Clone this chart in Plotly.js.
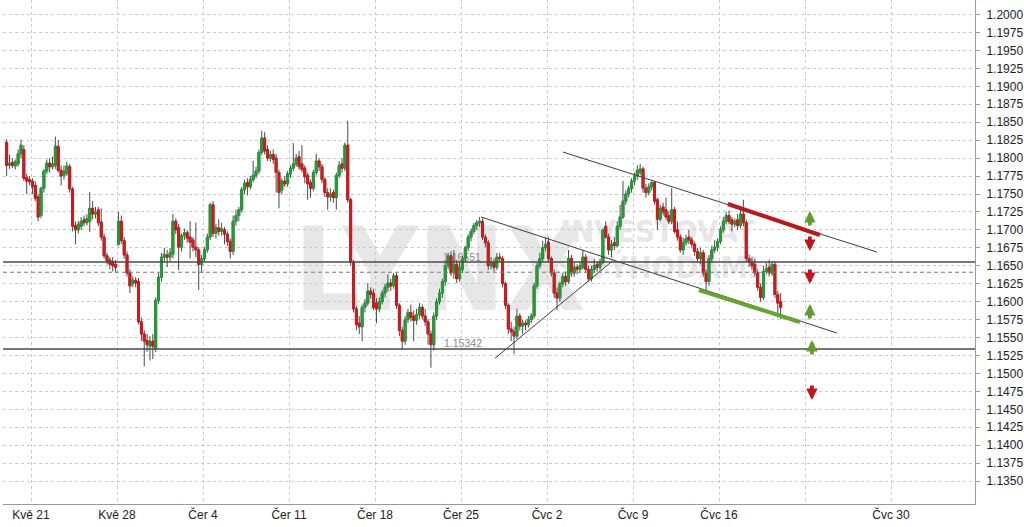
<!DOCTYPE html>
<html><head><meta charset="utf-8">
<script src="https://cdn.plot.ly/plotly-3.0.1.min.js"></script>
<style>html,body{margin:0;padding:0;background:#fff}#chart{width:1024px;height:527px}</style>
</head><body><div id="chart"></div>
<script>
// EUR/USD 4-hour candles. Slot index 0 = Monday 21 May 00:00 (30 slots per trading week)
const firstSlot = -9;

const open = [
1.1822,1.1790,1.1794,1.1789,1.1792,1.1806,1.1812,1.1773,1.1770,
1.1768,1.1762,1.1746,1.1720,1.1758,1.1782,1.1793,1.1788,1.1790,1.1816,1.1783,1.1776,1.1779,1.1788,1.1757,1.1706,1.1700,1.1705,1.1714,1.1710,1.1712,1.1730,1.1722,1.1728,1.1711,1.1690,1.1664,1.1658,1.1656,1.1652,
1.1680,1.1712,1.1685,1.1665,1.1640,1.1625,1.1630,1.1628,1.1572,1.1555,1.1546,1.1538,1.1545,1.1535,1.1602,1.1634,1.1662,1.1665,1.1662,1.1666,1.1712,1.1703,1.1676,1.1692,1.1696,1.1690,1.1686,1.1676,1.1672,1.1652,
1.1660,1.1672,1.1690,1.1735,1.1695,1.1703,1.1698,1.1700,1.1694,1.1684,1.1670,1.1712,1.1720,1.1728,1.1756,1.1766,1.1760,1.1770,1.1776,1.1782,1.1808,1.1828,1.1812,1.1800,1.1805,1.1800,1.1780,1.1755,1.1768,1.1764,
1.1778,1.1786,1.1792,1.1802,1.1792,1.1786,1.1776,1.1766,1.1758,1.1780,1.1796,1.1788,1.1770,1.1752,1.1746,1.1752,1.1745,1.1776,1.1792,1.1786,1.1818,1.1742,1.1655,1.1590,1.1570,1.1565,1.1592,1.1598,1.1615,1.1612,
1.1598,1.1590,1.1600,1.1612,1.1620,1.1626,1.1622,1.1636,1.1595,1.1560,1.1545,1.1575,1.1585,1.1580,1.1574,1.1582,1.1592,1.1580,1.1572,1.1555,1.1540,1.1580,1.1600,1.1612,1.1628,1.1650,1.1664,1.1640,1.1652,1.1632,
1.1645,1.1660,1.1675,1.1690,1.1698,1.1706,1.1710,1.1712,1.1690,1.1682,1.1650,1.1655,1.1648,1.1662,1.1660,1.1625,1.1595,1.1562,1.1558,1.1552,1.1580,1.1566,1.1570,1.1568,1.1575,1.1580,1.1622,1.1650,1.1660,1.1675,
1.1683,1.1660,1.1640,1.1612,1.1605,1.1625,1.1635,1.1628,1.1660,1.1640,1.1648,1.1645,1.1648,1.1662,1.1645,1.1632,1.1645,1.1652,1.1648,1.1655,1.1705,1.1690,1.1672,1.1682,1.1678,1.1705,1.1718,1.1740,1.1750,1.1758,
1.1768,1.1775,1.1780,1.1785,1.1758,1.1752,1.1760,1.1766,1.1742,1.1715,1.1732,1.1728,1.1720,1.1712,1.1728,1.1700,1.1690,1.1672,1.1682,1.1690,1.1686,1.1680,1.1670,1.1660,1.1668,1.1640,1.1628,1.1660,1.1672,1.1676,
1.1684,1.1700,1.1712,1.1720,1.1714,1.1708,1.1714,1.1706,1.1722,1.1710,1.1660,1.1656,1.1652,1.1640,1.1620,1.1606,1.1642,1.1648,1.1640,1.1652,1.1610,1.1600
];
const high = [
1.1826,1.1805,1.1800,1.1798,1.1812,1.1826,1.1818,1.1778,1.1775,
1.1772,1.1768,1.1750,1.1760,1.1785,1.1798,1.1800,1.1802,1.1830,1.1825,1.1790,1.1790,1.1795,1.1792,1.1760,1.1712,1.1712,1.1718,1.1720,1.1722,1.1753,1.1740,1.1732,1.1732,1.1730,1.1695,1.1668,1.1662,1.1662,1.1658,
1.1725,1.1720,1.1690,1.1670,1.1645,1.1635,1.1634,1.1633,1.1578,1.1560,1.1555,1.1552,1.1555,1.1606,1.1640,1.1668,1.1675,1.1672,1.1675,1.1722,1.1716,1.1708,1.1695,1.1702,1.1700,1.1712,1.1690,1.1710,1.1676,1.1665,
1.1676,1.1695,1.1738,1.1740,1.1708,1.1715,1.1710,1.1704,1.1698,1.1688,1.1720,1.1728,1.1732,1.1760,1.1770,1.1772,1.1775,1.1796,1.1788,1.1812,1.1838,1.1836,1.1818,1.1810,1.1812,1.1806,1.1784,1.1772,1.1775,1.1782,
1.1790,1.1821,1.1806,1.1810,1.1818,1.1790,1.1780,1.1770,1.1784,1.1806,1.1800,1.1792,1.1774,1.1758,1.1758,1.1756,1.1780,1.1796,1.1800,1.1822,1.1852,1.1745,1.1658,1.1594,1.1580,1.1596,1.1604,1.1626,1.1620,1.1618,
1.1605,1.1606,1.1616,1.1625,1.1638,1.1632,1.1640,1.1640,1.1598,1.1565,1.1580,1.1590,1.1596,1.1588,1.1590,1.1598,1.1596,1.1590,1.1576,1.1560,1.1585,1.1605,1.1618,1.1632,1.1655,1.1668,1.1670,1.1672,1.1658,1.1655,
1.1664,1.1678,1.1694,1.1702,1.1710,1.1714,1.1718,1.1716,1.1694,1.1686,1.1662,1.1660,1.1668,1.1668,1.1664,1.1628,1.1598,1.1572,1.1565,1.1590,1.1584,1.1575,1.1574,1.1580,1.1584,1.1626,1.1654,1.1668,1.1685,1.1690,
1.1690,1.1663,1.1645,1.1620,1.1628,1.1640,1.1642,1.1672,1.1665,1.1655,1.1652,1.1656,1.1672,1.1666,1.1650,1.1650,1.1660,1.1656,1.1660,1.1702,1.1712,1.1695,1.1686,1.1690,1.1712,1.1735,1.1768,1.1755,1.1762,1.1772,
1.1780,1.1790,1.1792,1.1788,1.1764,1.1765,1.1768,1.1768,1.1745,1.1735,1.1738,1.1745,1.1726,1.1758,1.1732,1.1712,1.1694,1.1688,1.1693,1.1700,1.1690,1.1684,1.1675,1.1675,1.1672,1.1645,1.1665,1.1678,1.1686,1.1688,
1.1705,1.1718,1.1725,1.1727,1.1718,1.1716,1.1722,1.1730,1.1742,1.1714,1.1666,1.1662,1.1660,1.1645,1.1625,1.1650,1.1654,1.1658,1.1656,1.1656,1.1615,1.1612
];
const low = [
1.1775,1.1785,1.1786,1.1784,1.1788,1.1800,1.1768,1.1750,1.1762,
1.1750,1.1740,1.1712,1.1716,1.1752,1.1778,1.1780,1.1784,1.1785,1.1780,1.1762,1.1770,1.1775,1.1752,1.1698,1.1680,1.1695,1.1700,1.1705,1.1706,1.1697,1.1715,1.1716,1.1705,1.1685,1.1660,1.1652,1.1645,1.1642,1.1640,
1.1678,1.1680,1.1660,1.1635,1.1612,1.1620,1.1620,1.1568,1.1545,1.1510,1.1530,1.1518,1.1520,1.1530,1.1597,1.1628,1.1655,1.1648,1.1656,1.1660,1.1694,1.1644,1.1670,1.1686,1.1682,1.1660,1.1670,1.1662,1.1616,1.1640,
1.1655,1.1668,1.1686,1.1690,1.1688,1.1692,1.1692,1.1680,1.1678,1.1660,1.1665,1.1706,1.1712,1.1724,1.1750,1.1748,1.1756,1.1766,1.1772,1.1778,1.1804,1.1805,1.1796,1.1795,1.1792,1.1752,1.1730,1.1750,1.1760,1.1760,
1.1772,1.1782,1.1788,1.1784,1.1780,1.1765,1.1742,1.1745,1.1754,1.1776,1.1782,1.1765,1.1746,1.1728,1.1740,1.1738,1.1728,1.1772,1.1780,1.1782,1.1738,1.1650,1.1585,1.1560,1.1555,1.1545,1.1585,1.1594,1.1604,1.1588,
1.1570,1.1585,1.1596,1.1606,1.1614,1.1615,1.1618,1.1590,1.1552,1.1533,1.1540,1.1570,1.1572,1.1545,1.1568,1.1576,1.1575,1.1566,1.1540,1.1508,1.1532,1.1575,1.1596,1.1605,1.1622,1.1645,1.1636,1.1632,1.1626,1.1628,
1.1640,1.1655,1.1670,1.1684,1.1694,1.1700,1.1704,1.1686,1.1676,1.1644,1.1645,1.1642,1.1644,1.1655,1.1620,1.1590,1.1555,1.1545,1.1527,1.1548,1.1560,1.1555,1.1560,1.1564,1.1570,1.1576,1.1618,1.1646,1.1656,1.1670,
1.1655,1.1635,1.1605,1.1588,1.1600,1.1620,1.1622,1.1625,1.1635,1.1635,1.1638,1.1640,1.1645,1.1640,1.1628,1.1628,1.1640,1.1642,1.1644,1.1652,1.1688,1.1665,1.1662,1.1672,1.1676,1.1700,1.1715,1.1735,1.1745,1.1752,
1.1762,1.1770,1.1776,1.1752,1.1745,1.1748,1.1755,1.1735,1.1700,1.1712,1.1720,1.1714,1.1708,1.1708,1.1695,1.1685,1.1668,1.1665,1.1678,1.1680,1.1674,1.1664,1.1655,1.1652,1.1635,1.1615,1.1622,1.1655,1.1668,1.1670,
1.1680,1.1696,1.1708,1.1708,1.1698,1.1704,1.1700,1.1702,1.1705,1.1655,1.1648,1.1645,1.1635,1.1615,1.1600,1.1602,1.1638,1.1635,1.1636,1.1605,1.1578,1.1576
];
const close = [
1.1790,1.1793,1.1790,1.1795,1.1806,1.1818,1.1772,1.1768,1.1767,
1.1760,1.1744,1.1718,1.1758,1.1782,1.1793,1.1788,1.1792,1.1817,1.1783,1.1775,1.1782,1.1789,1.1757,1.1705,1.1700,1.1708,1.1712,1.1710,1.1716,1.1730,1.1722,1.1725,1.1710,1.1690,1.1664,1.1657,1.1652,1.1650,1.1648,
1.1712,1.1685,1.1665,1.1640,1.1622,1.1630,1.1626,1.1572,1.1555,1.1545,1.1540,1.1545,1.1538,1.1602,1.1634,1.1662,1.1666,1.1662,1.1668,1.1712,1.1700,1.1676,1.1692,1.1696,1.1688,1.1683,1.1676,1.1672,1.1652,1.1660,
1.1672,1.1690,1.1735,1.1695,1.1703,1.1698,1.1702,1.1694,1.1684,1.1670,1.1712,1.1720,1.1728,1.1756,1.1765,1.1760,1.1770,1.1776,1.1782,1.1808,1.1828,1.1810,1.1800,1.1805,1.1798,1.1780,1.1752,1.1768,1.1764,1.1778,
1.1786,1.1792,1.1800,1.1788,1.1784,1.1774,1.1764,1.1758,1.1780,1.1796,1.1788,1.1770,1.1752,1.1746,1.1750,1.1745,1.1776,1.1790,1.1786,1.1818,1.1742,1.1655,1.1590,1.1568,1.1565,1.1592,1.1598,1.1615,1.1610,1.1592,
1.1590,1.1600,1.1612,1.1620,1.1626,1.1622,1.1636,1.1595,1.1560,1.1545,1.1575,1.1585,1.1578,1.1574,1.1582,1.1592,1.1580,1.1572,1.1555,1.1540,1.1580,1.1600,1.1612,1.1628,1.1650,1.1664,1.1640,1.1652,1.1632,1.1648,
1.1660,1.1675,1.1690,1.1698,1.1706,1.1710,1.1712,1.1690,1.1682,1.1650,1.1655,1.1648,1.1662,1.1660,1.1625,1.1595,1.1562,1.1558,1.1552,1.1580,1.1566,1.1570,1.1568,1.1575,1.1580,1.1622,1.1650,1.1660,1.1675,1.1680,
1.1660,1.1640,1.1612,1.1605,1.1625,1.1635,1.1628,1.1660,1.1640,1.1648,1.1645,1.1650,1.1662,1.1645,1.1632,1.1645,1.1650,1.1648,1.1655,1.1700,1.1690,1.1672,1.1680,1.1678,1.1705,1.1718,1.1740,1.1750,1.1758,1.1768,
1.1775,1.1783,1.1785,1.1758,1.1752,1.1760,1.1766,1.1740,1.1715,1.1730,1.1725,1.1718,1.1712,1.1728,1.1698,1.1690,1.1672,1.1682,1.1688,1.1686,1.1680,1.1670,1.1660,1.1668,1.1640,1.1628,1.1660,1.1672,1.1676,1.1684,
1.1700,1.1712,1.1720,1.1712,1.1708,1.1712,1.1706,1.1722,1.1710,1.1660,1.1655,1.1650,1.1640,1.1620,1.1606,1.1642,1.1646,1.1640,1.1652,1.1610,1.1598,1.1592
];

// weekly ticks (slot of each Monday 00:00)
const weekTicks = [0,30,60,90,120,150,180,210,240,270,300];
const weekLabels = ['Kvě 21','Kvě 28','Čer 4','Čer 11','Čer 18','Čer 25','Čvc 2','Čvc 9','Čvc 16','','Čvc 30'];
const priceTicks = [1.1350,1.1375,1.1400,1.1425,1.1450,1.1475,1.1500,1.1525,1.1550,1.1575,1.1600,1.1625,1.1650,1.1675,1.1700,1.1725,1.1750,1.1775,1.1800,1.1825,1.1850,1.1875,1.1900,1.1925,1.1950,1.1975,1.2000];

// horizontal levels
const resistanceLevel = 1.16551;
const supportLevel = 1.15342;
const lastPriceLevel = 1.1641;

// drawn trend lines [slot, price]
const lowerChannelX = [156.96, 281.13], lowerChannelY = [1.17180, 1.15563];
const upperChannelX = [185.56, 295.08], upperChannelY = [1.18085, 1.16692];
const risingLineX = [161.84, 202.55], risingLineY = [1.15211, 1.16557];
const redLineX = [243.1, 275.2], redLineY = [1.17361, 1.16929];
const greenLineX = [233.0, 268.2], greenLineY = [1.16162, 1.15717];

// signal arrows (tip position)
const signalX = [271.7, 271.7, 271.7, 271.7, 272.4, 272.4];
const signalY = [1.17263, 1.16706, 1.16246, 1.15967, 1.15466, 1.14630];
const signalDir = ['up', 'down', 'down', 'up', 'up', 'down'];

const GREEN = '#1f9e35', RED = '#d3181c', WICK = '#4a4a4a';
const ARROW_GREEN = '#5e9f2c', ARROW_RED = '#c0161b';
const FONT = 'Liberation Sans, Arial, sans-serif';
const NARROW = 'Liberation Sans Narrow, Arial Narrow, DejaVu Sans Condensed, sans-serif';

const xs = open.map((_, i) => firstSlot + i + 0.5);
const bodyHigh = open.map((o, i) => Math.max(o, close[i]));
const bodyLow = open.map((o, i) => Math.min(o, close[i]));

const wickTrace = {
  type: 'candlestick', x: xs, open: open, high: high, low: low, close: close,
  increasing: {line: {color: WICK, width: 1}, fillcolor: WICK},
  decreasing: {line: {color: WICK, width: 1}, fillcolor: WICK},
  whiskerwidth: 0, hoverinfo: 'skip', showlegend: false
};
const bodyTrace = {
  type: 'candlestick', x: xs, open: open, high: bodyHigh, low: bodyLow, close: close,
  increasing: {line: {color: GREEN, width: 1}, fillcolor: GREEN},
  decreasing: {line: {color: RED, width: 1}, fillcolor: RED},
  whiskerwidth: 0, hoverinfo: 'skip', showlegend: false
};
function lineTrace(x, y, color, width) {
  return {type: 'scatter', mode: 'lines', x: x, y: y, line: {color: color, width: width},
          hoverinfo: 'skip', showlegend: false};
}
const traces = [
  wickTrace, bodyTrace,
  lineTrace(lowerChannelX, lowerChannelY, '#3c3c3c', 1),
  lineTrace(upperChannelX, upperChannelY, '#3c3c3c', 1),
  lineTrace(risingLineX, risingLineY, '#3c3c3c', 1),
  lineTrace(redLineX, redLineY, '#b8171b', 4),
  lineTrace(greenLineX, greenLineY, '#67a532', 4)
];

function textShape(cx, cy, text, size, color, family, weight) {
  return {type: 'rect', xref: 'x', yref: 'y', x0: cx - 1, x1: cx + 1, y0: cy - 0.0001, y1: cy + 0.0001,
          line: {width: 0, color: 'rgba(0,0,0,0)'}, fillcolor: 'rgba(0,0,0,0)', layer: 'below',
          label: {text: text, textposition: 'middle center',
                  font: {family: family, size: size, color: color, weight: weight}}};
}
function hLine(y, color, width, dash) {
  return {type: 'line', xref: 'paper', yref: 'y', x0: 0, x1: 1, y0: y, y1: y,
          line: {color: color, width: width, dash: dash}, layer: 'above'};
}

const shapes = [
  textShape(142.6, 1.16560, 'LYNX', 116, '#e7e7e7', NARROW, 'bold'),
  textShape(218.6, 1.17012, 'INVESTOVAT', 31, '#e7e7e7', NARROW, 'bold'),
  textShape(218.6, 1.16504, 'S VÝHODAMI', 31, '#e7e7e7', NARROW, 'bold'),
  textShape(150.3, 1.16636, '1.16551', 10.5, '#8a8a8a', FONT, 'normal'),
  textShape(150.7, 1.15438, '1.15342', 10.5, '#8a8a8a', FONT, 'normal'),
  hLine(resistanceLevel, '#4a4a4a', 1.5, 'solid'),
  hLine(lastPriceLevel, '#7a7a7a', 1, '4px,3px'),
  hLine(supportLevel, '#4a4a4a', 1.5, 'solid')
];

const annotations = signalX.map((x, i) => ({
  x: x, y: signalY[i], xref: 'x', yref: 'y', text: '', showarrow: true,
  arrowhead: 2, arrowsize: 0.6, arrowwidth: 3.8, standoff: 0,
  arrowcolor: signalDir[i] === 'up' ? ARROW_GREEN : ARROW_RED,
  ax: 0, ay: signalDir[i] === 'up' ? 16 : -16
}));

const layout = {
  width: 1024, height: 527,
  margin: {l: 3, r: 49, t: 0, b: 23, pad: 0},
  paper_bgcolor: '#ffffff', plot_bgcolor: '#ffffff',
  showlegend: false, hovermode: false, dragmode: false,
  boxgap: 0.25, boxgroupgap: 0.1,
  font: {family: FONT, size: 12, color: '#222'},
  xaxis: {
    range: [-9.77, 329.3], tickmode: 'array', tickvals: weekTicks, ticktext: weekLabels,
    showgrid: true, gridcolor: '#cacaca', griddash: 'dot', gridwidth: 1,
    zeroline: false, showline: true, linecolor: '#9a9a9a', linewidth: 1,
    ticks: '', tickfont: {family: FONT, size: 12, color: '#222'},
    rangeslider: {visible: false}, fixedrange: true, automargin: false
  },
  yaxis: {
    side: 'right', range: [1.13181, 1.20203], tickmode: 'array', tickvals: priceTicks,
    tickformat: '.4f', showgrid: true, gridcolor: '#cacaca', griddash: 'dot', gridwidth: 1,
    zeroline: false, showline: true, linecolor: '#9a9a9a', linewidth: 1,
    ticks: 'outside', ticklen: 4, tickcolor: '#9a9a9a', ticklabelstandoff: 4,
    tickfont: {family: FONT, size: 12, color: '#222'}, fixedrange: true, automargin: false
  },
  shapes: shapes,
  annotations: annotations
};

Plotly.newPlot('chart', traces, layout, {staticPlot: true, displayModeBar: false});
</script>
</body></html>
